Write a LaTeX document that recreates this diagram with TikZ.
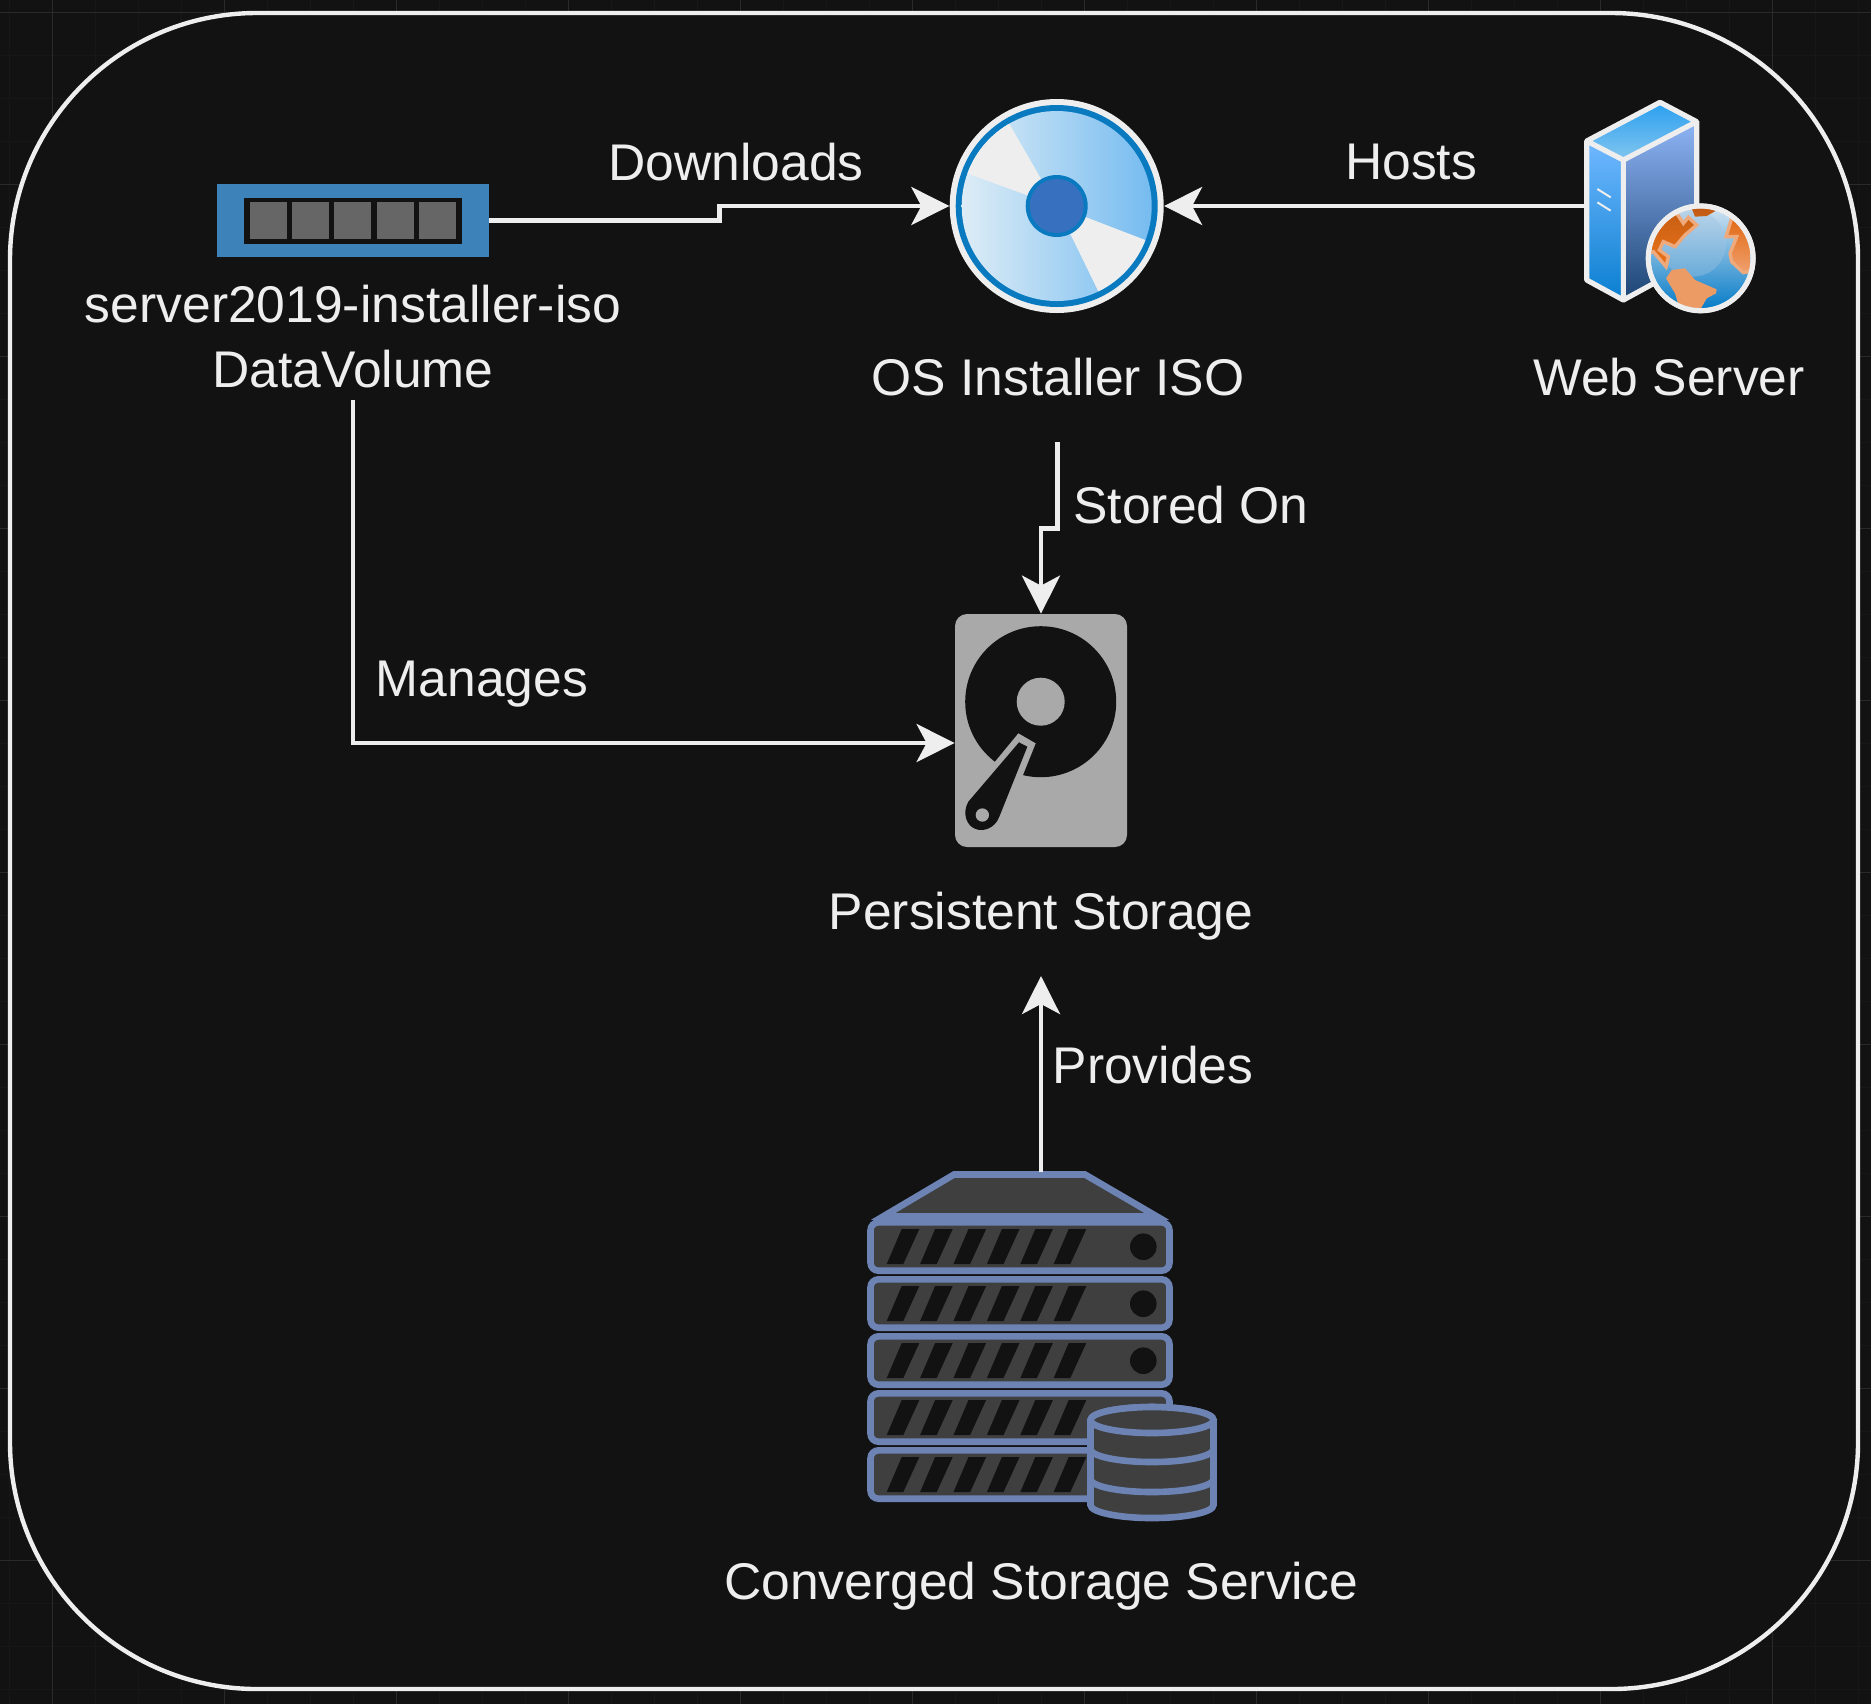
\documentclass[tikz,border=0pt]{standalone}
\usepackage{fontspec}
\setmainfont{Liberation Sans}
\usetikzlibrary{arrows.meta}
\definecolor{bgc}{HTML}{121212}
\definecolor{ink}{HTML}{EEEEEE}
\definecolor{slate}{HTML}{6C83B3}
\definecolor{dk}{HTML}{3F3F3F}
\definecolor{hdd}{HTML}{A9A9A9}
\tikzset{
  lbl/.style={text=ink,font=\fontsize{25.8pt}{32.5pt}\selectfont,align=center,inner sep=0pt},
  wire/.style={draw=ink,line width=2.2pt,-{Stealth[length=19pt,width=19pt,inset=5pt,fill=ink]}},
  unit/.style={draw=slate,fill=dk,line width=3.3pt,rounded corners=4pt},
  slot/.style={fill=bgc},
  grd/.style={draw=#1,line width=.5pt}
}
\newcommand{\rackunit}[2]{%
  \draw[unit] (870.5,#1+3.3) rectangle (1169.5,#1+51.7);
  \foreach \k in {0,...,5}{\fill[slot] (901.7+33.4*\k,#1+10) -- (919.3+33.4*\k,#1+10) -- (903.3+33.4*\k,#1+45) -- (886.7+33.4*\k,#1+45) -- cycle;}
  \ifnum#2=1 \fill[bgc] (1143.3,#1+27.7) circle (13.3);\fi
}
\newcommand{\cyl}[1]{%
  \draw[draw=slate,fill=dk,line width=3.3pt] (1090.5,#1) -- (1090.5,#1+29) arc[start angle=180,end angle=0,x radius=61.5,y radius=13] -- (1213.5,#1) arc[start angle=0,end angle=-180,x radius=61.5,y radius=13] -- cycle;
}
\begin{document}
\begin{tikzpicture}[x=.5pt,y=-.5pt]
\useasboundingbox (0,0) rectangle (1871,1704);
\fill[bgc] (0,0) rectangle (1871,1704);
% faint page grid
\foreach \gx in {9,52,...,1871} \draw[grd=bgc!98!white] (\gx,0) -- (\gx,1704);
\foreach \gy in {12,55,...,1704} \draw[grd=bgc!98!white] (0,\gy) -- (1871,\gy);
\foreach \gx in {52,224,396,568,740,912,1084,1256,1428,1600,1772} \draw[grd=bgc!90!white] (\gx,0) -- (\gx,1704);
\foreach \gy in {12,184,356,528,700,872,1044,1216,1388,1560} \draw[grd=bgc!90!white] (0,\gy) -- (1871,\gy);
% frame
\draw[draw=ink,fill=bgc,line width=2.2pt] (10,260) arc[start angle=180,end angle=270,radius=247] -- (1611,13) arc[start angle=-90,end angle=0,radius=247] -- (1858,1442) arc[start angle=0,end angle=90,radius=247] -- (257,1689) arc[start angle=90,end angle=180,radius=247] -- cycle;

% chip
\node[inner sep=0pt,minimum width=136pt,minimum height=36.5pt,fill={rgb,255:red,61;green,130;blue,184}] (chip) at (353,220.5) {};
\fill[bgc] (244,198) rectangle (462,243.5);
\foreach \sx in {249.5,291.8,334,376.5,419} \fill[black!60] (\sx,202) rectangle +(37.3,37.3);
\node[lbl] (chiplabel) at (353,337) {server2019-installer-iso\\DataVolume};

% iso disk
\node[circle,minimum size=107pt,inner sep=0pt] (iso) at (1056.7,206) {};
\fill[ink] (iso.center) circle (107);
\fill[fill={rgb,255:red,10;green,122;blue,192}] (iso.center) circle (101);
\begin{scope}
\clip (iso.center) circle (95);
\shade[left color={rgb,255:red,222;green,237;blue,246},right color={rgb,255:red,117;green,187;blue,240}] (960,109) rectangle (1153,303);
\fill[ink] (iso.center) -- ++(-120:200) arc[start angle=-120,end angle=-160,radius=200] -- cycle;
\fill[ink] (iso.center) -- ++(64:200) arc[start angle=64,end angle=21,radius=200] -- cycle;
\end{scope}
\fill[fill={rgb,255:red,10;green,122;blue,192}] (iso.center) circle (31);
\fill[fill={rgb,255:red,56;green,112;blue,192}] (iso.center) circle (27);
\node[lbl] (isolabel) at (1058,377) {OS Installer ISO};

% web server
\node[inner sep=0pt,minimum width=85pt,minimum height=106pt] (web) at (1670,206) {};
\begin{scope}[shift={(1560,80)},x=.16667pt,y=-.16667pt]
\shade[top color={rgb,255:red,43;green,159;blue,240},bottom color={rgb,255:red,130;green,198;blue,238},draw=none] (300,67)--(410,125)--(190,240)--(80,183)--cycle;
\shade[top color={rgb,255:red,112;green,184;blue,255},middle color={rgb,255:red,42;green,150;blue,255},bottom color={rgb,255:red,10;green,127;blue,208}] (80,183)--(190,240)--(190,660)--(80,600)--cycle;
\shade[top color={rgb,255:red,142;green,180;blue,245},middle color={rgb,255:red,74;green,110;blue,220},bottom color={rgb,255:red,28;green,68;blue,115}] (190,240)--(410,125)--(410,540)--(190,660)--cycle;
\draw[ink,line width=2.6pt,line join=round] (300,67)--(410,125)--(190,240)--(80,183)--cycle;
\draw[ink,line width=2.6pt,line join=round] (80,183)--(80,600)--(190,660)--(190,240);
\draw[ink,line width=2.6pt,line join=round] (410,125)--(410,540)--(190,660);
\draw[ink,line width=1pt] (112,327)--(152,352) (112,367)--(152,392);
% globe
\coordinate (gc) at (422,535);
\fill[ink] (gc) circle (165);
\begin{scope}
\clip (gc) circle (150);
\shade[top color={rgb,255:red,205;green,225;blue,240},middle color={rgb,255:red,66;green,158;blue,255},bottom color={rgb,255:red,8;green,125;blue,200}] (270,385) rectangle (575,685);
\fill[fill={rgb,255:red,160;green,195;blue,225},opacity=.4] (398,490) circle (100);
\shade[top color={rgb,255:red,200;green,95;blue,20},bottom color={rgb,255:red,235;green,115;blue,25},draw={rgb,255:red,238;green,170;blue,125},line width=1.7pt] (260,400)--(350,400)--(370,430)--(385,412)--(410,435)--(375,465)--(345,500)--(310,485)--(298,510)--(325,530)--(318,560)--(280,515)--(260,520)--cycle;
\shade[top color={rgb,255:red,195;green,90;blue,20},bottom color={rgb,255:red,200;green,95;blue,20},draw=none] (395,385)--(480,385)--(440,408)--(405,410)--cycle;
\shade[top color={rgb,255:red,225;green,105;blue,20},bottom color={rgb,255:red,240;green,160;blue,110},draw={rgb,255:red,238;green,170;blue,125},line width=1.7pt] (515,415)--(590,440)--(590,570)--(550,578)--(515,545)--(510,520)--(530,470)--(498,470)--cycle;
\fill[fill={rgb,255:red,236;green,155;blue,100}] (318,595)--(335,570)--(375,565)--(405,600)--(470,628)--(468,640)--(440,655)--(420,690)--(360,690)--(345,640)--cycle;
\end{scope}
\draw[ink,line width=2.5pt] (gc) circle (157);
\end{scope}
\node[lbl] (weblabel) at (1669,377) {Web Server};

% hdd
\node[fill=hdd,rounded corners=6pt,minimum width=86pt,minimum height=116.5pt,inner sep=0pt] (disk) at (1041,730.5) {};
\fill[bgc] (1040.7,701.7) circle (75.5);
\fill[hdd] (1040.7,701.7) circle (24);
\begin{scope}[shift={(940,600)},x=.16667pt,y=-.16667pt]
\fill[hdd] (235,400)--(287,430)--(248,527)--(400,600)--(100,700)--(60,600)--(165,485)--cycle;
\fill[bgc] (237,427)--(262,440)--(178,650) .. controls (165,685) and (130,695) .. (110,688) .. controls (80,680) and (65,640) .. (85,605)--cycle;
\fill[hdd] (127,645) circle (20);
\end{scope}
\node[lbl] (disklabel) at (1041,916) {Persistent Storage};

% converged storage
\node[inner sep=0pt,minimum width=175pt,minimum height=174pt] (conv) at (1041,1346) {};
\draw[draw=slate,fill=dk,line width=3.3pt,line join=miter] (954,1174.5) -- (1085,1174.5) -- (1157,1216.5) -- (883,1216.5) -- cycle;
\rackunit{1219}{1}
\rackunit{1276}{1}
\rackunit{1333}{1}
\rackunit{1390}{0}
\rackunit{1447}{0}
\cyl{1476}
\cyl{1450}
\cyl{1420}
\draw[draw=slate,fill=dk,line width=3.3pt] (1152,1420) ellipse[x radius=61.5,y radius=13];
\node[lbl] (convlabel) at (1041,1586) {Converged Storage Service};

% connectors
\draw[wire] (chip.east) -- ++(230,0) |- (iso.west);
\draw[wire] (web.west) -- (iso.east);
\draw[wire] (isolabel.south) ++(-0.5,46) -- ++(0,86) -| (disk.north);
\draw[wire] (chiplabel.south) ++(0,11) |- (disk.west |- 0,743);
\draw[wire] (conv.north) -- (disklabel.south |- 0,976);

% edge labels
\node[lbl] (dl) at (736,162) {Downloads};
\node[lbl] (ho) at (1411,162) {Hosts};
\node[lbl] (so) at (1191,505.5) {Stored On};
\node[lbl] (ma) at (482,684) {Manages};
\node[lbl] (pr) at (1153,1065) {Provides};
\end{tikzpicture}
\end{document}
